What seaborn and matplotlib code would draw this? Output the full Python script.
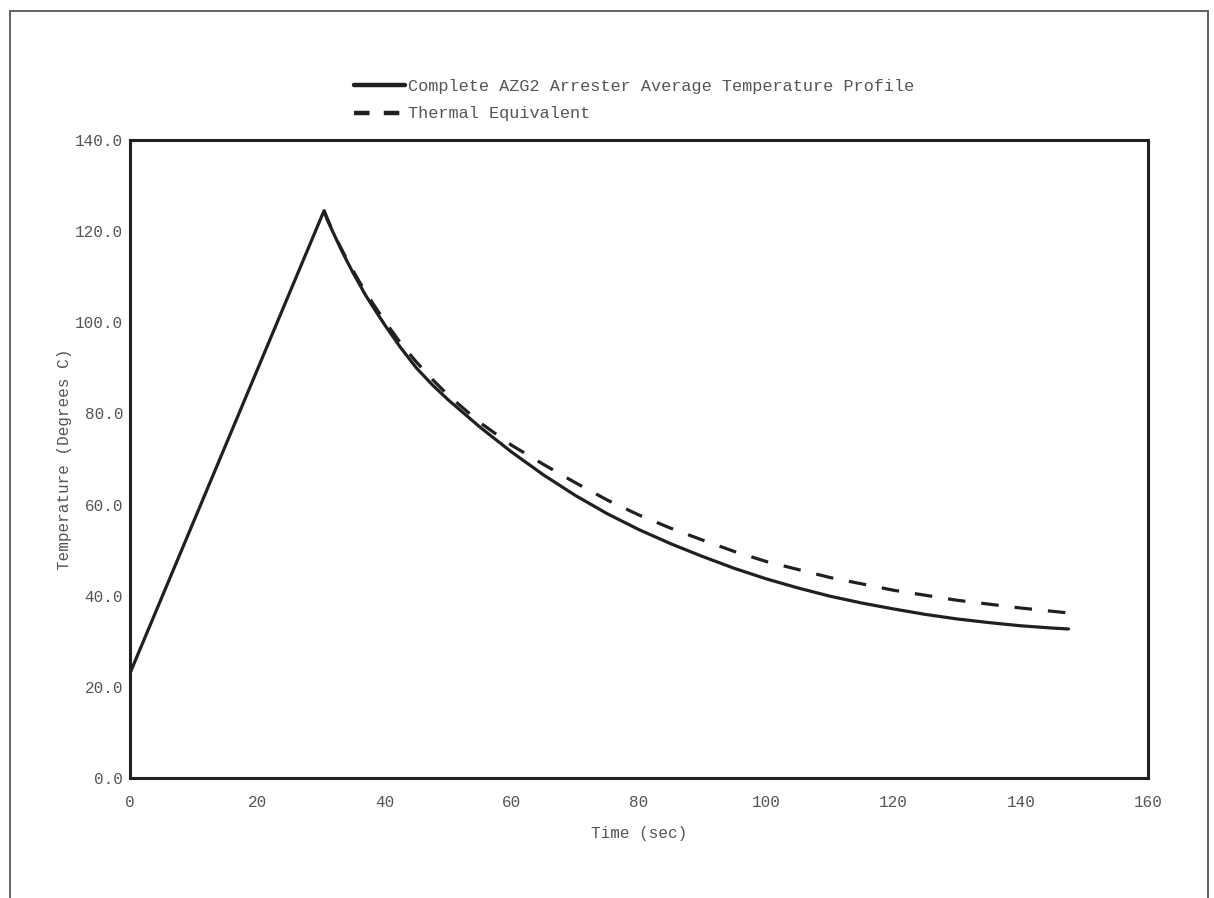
import numpy as np
import pandas as pd
import matplotlib
matplotlib.use("Agg")
import matplotlib.pyplot as plt
from matplotlib.lines import Line2D
import seaborn as sns

# ---- data ----
profile_time = [0, 30.5, 31, 32, 33, 34, 35, 36, 37, 38, 40, 42.5, 45, 47.5, 50, 55, 60,
                65, 70, 75, 80, 85, 90, 95, 100, 105, 110, 115, 120, 125, 130, 135, 140,
                145, 147.5]
profile_temp = [23, 124.5, 122.5, 119.5, 116.5, 113.7, 111, 108.5, 106, 103.8, 99.5,
                94.5, 90, 86.3, 83, 77, 71.5, 66.5, 62, 58, 54.5, 51.4, 48.6, 46, 43.7,
                41.7, 39.9, 38.4, 37.1, 35.9, 34.9, 34.1, 33.4, 32.9, 32.7]
equiv_time = [30.5, 32, 34, 36, 38, 40, 42.5, 45, 47.5, 50, 55, 60, 65, 70, 75, 80, 85,
              90, 95, 100, 110, 120, 130, 140, 149]
equiv_temp = [124.5, 119.5, 114, 109, 104.5, 100.3, 95.5, 91.3, 87.5, 84, 78, 73, 68.8,
              64.8, 61, 57.7, 54.8, 52.2, 49.7, 47.5, 44, 41.2, 39, 37.3, 36]
series_names = ["Complete AZG2 Arrester Average Temperature Profile", "Thermal Equivalent"]
x_ticks = [0, 20, 40, 60, 80, 100, 120, 140, 160]
y_ticks = [0, 20, 40, 60, 80, 100, 120, 140]

df = pd.concat([
    pd.DataFrame({"Time": profile_time, "Temp": profile_temp, "Series": series_names[0]}),
    pd.DataFrame({"Time": equiv_time, "Temp": equiv_temp, "Series": series_names[1]}),
], ignore_index=True)

sns.set_style("white")
plt.rcParams["font.family"] = ["Liberation Mono", "DejaVu Sans Mono"]

text_color = "#555555"
line_color = "#231f20"

fig = plt.figure(figsize=(12.14, 8.98), dpi=100)
ax = fig.add_axes([130 / 1214, 1 - 778 / 898, (1148 - 130) / 1214, (778 - 140) / 898])

sns.lineplot(data=df, x="Time", y="Temp", hue="Series", style="Series",
             palette=[line_color, line_color],
             dashes={series_names[0]: "", series_names[1]: (5.5, 5.0)},
             linewidth=2.3, sort=False, estimator=None, ax=ax, legend=False)

ax.set_xlim(0, 160)
ax.set_ylim(0, 140)
ax.set_xticks(x_ticks)
ax.set_yticks(y_ticks)
ax.set_xticklabels([str(v) for v in x_ticks])
ax.set_yticklabels([f"{v:.1f}" for v in y_ticks])
ax.tick_params(axis="both", direction="out", length=5, width=2.2, color=line_color,
               labelsize=11.5, labelcolor=text_color)
ax.tick_params(axis="y", pad=0)
ax.tick_params(axis="x", pad=7)
for sp in ax.spines.values():
    sp.set_visible(True)
    sp.set_linewidth(2.2)
    sp.set_color(line_color)

ax.set_xlabel("Time (sec)", fontsize=11.5, color=text_color, labelpad=12)
ax.set_ylabel("Temperature (Degrees C)", fontsize=11.5, color=text_color, labelpad=2)

handles = [
    Line2D([], [], color=line_color, linewidth=3.2, linestyle="-"),
    Line2D([], [], color=line_color, linewidth=3.2, linestyle=(0, (3.5, 3.2))),
]
fig.legend(handles, series_names, loc="upper left",
           bbox_to_anchor=(347 / 1214, 1 - 72 / 898), frameon=False,
           fontsize=12.2, labelcolor=text_color, handlelength=3.0,
           handletextpad=0.2, labelspacing=0.75, borderaxespad=0)

# figure frame (left, top, right edges)
fx0, fx1 = 10 / 1214, 1208 / 1214
fy1 = 1 - 11 / 898
frame_kw = dict(color="#555555", linewidth=1.3, transform=fig.transFigure)
fig.add_artist(Line2D([fx0, fx0], [0, fy1], **frame_kw))
fig.add_artist(Line2D([fx0, fx1], [fy1, fy1], **frame_kw))
fig.add_artist(Line2D([fx1, fx1], [0, fy1], **frame_kw))

fig.savefig("out.png", dpi=100)
